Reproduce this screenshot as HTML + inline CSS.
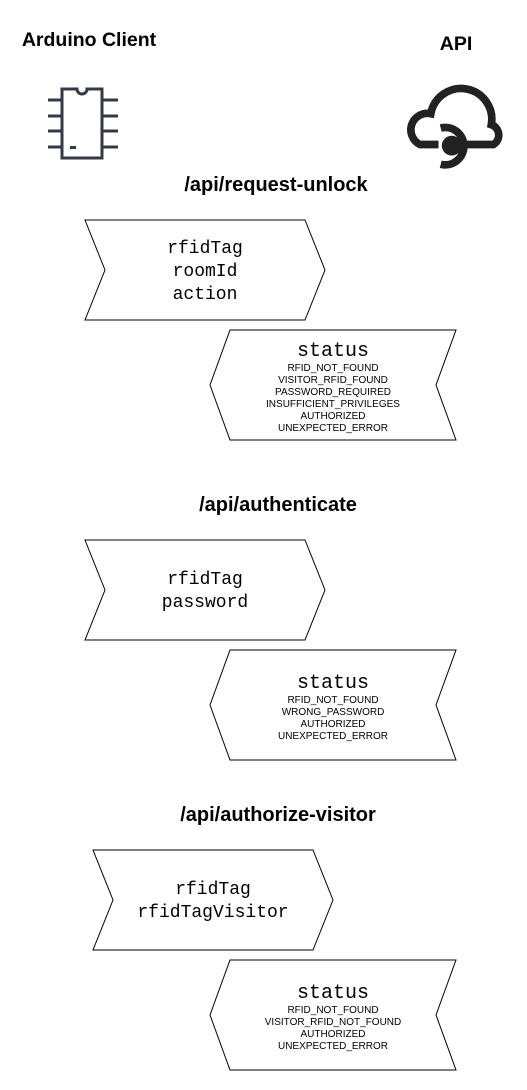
<!DOCTYPE html>
<html><head><style>
body{margin:0;background:#fff;}
svg{display:block;}
.m{font-family:"Liberation Mono",monospace;font-size:18px;}
.s{font-family:"Liberation Sans",sans-serif;font-size:10px;}
.b{font-family:"Liberation Sans",sans-serif;font-weight:bold;font-size:19.5px;}
.t{font-family:"Liberation Sans",sans-serif;font-weight:bold;font-size:20px;}
</style></head><body>
<svg width="527" height="1090" viewBox="0 0 527 1090" xmlns="http://www.w3.org/2000/svg">
<text x="89" y="46" class="b" text-anchor="middle">Arduino Client</text>
<text x="456" y="50" class="b" text-anchor="middle">API</text>
<!-- chip -->
<g stroke="#333a45" stroke-width="3" fill="none">
<path d="M62,89 H77 A5,5 0 0 0 87,89 H102 V158 H62 Z"/>
<path d="M48,100H62M48,116H62M48,131H62M48,147H62M102,100H118M102,116H118M102,131H118M102,147H118"/>
</g>
<rect x="70" y="146" width="6" height="3" fill="#333a45"/>
<!-- cloud -->
<g transform="translate(455,128) scale(1.1) translate(-455,-128)">
<g stroke="#222" stroke-width="7" fill="none" stroke-linecap="butt">
<path d="M440,143 H423 A15,15 0 0 1 433,115 A27,27 0 0 1 488,125 A10,10 0 0 1 490,143 H462"/>
<path d="M442,128 A17,17 0 1 1 442,161"/>
</g>
<circle cx="452" cy="144" r="9" fill="#222"/>
</g>

<g fill="#fff" stroke="#000" stroke-width="1">
<polygon points="85,220 305,220 325,270 305,320 85,320 105,270"/>
<polygon points="230,330 456,330 436,385 456,440 230,440 210,385"/>
<polygon points="85,540 305,540 325,590 305,640 85,640 105,590"/>
<polygon points="230,650 456,650 436,705 456,760 230,760 210,705"/>
<polygon points="93,850 313,850 333,900 313,950 93,950 113,900"/>
<polygon points="230,960 456,960 436,1015 456,1070 230,1070 210,1015"/>
</g>

<text x="276" y="191" class="t" text-anchor="middle">/api/request-unlock</text>
<g class="m" text-anchor="middle">
<text x="205" y="253">rfidTag</text>
<text x="205" y="276">roomId</text>
<text x="205" y="299">action</text>
</g>
<text x="333" y="356" class="m" text-anchor="middle" style="font-size:20px">status</text>
<g class="s" text-anchor="middle">
<text x="333" y="371">RFID_NOT_FOUND</text>
<text x="333" y="383">VISITOR_RFID_FOUND</text>
<text x="333" y="395">PASSWORD_REQUIRED</text>
<text x="333" y="407">INSUFFICIENT_PRIVILEGES</text>
<text x="333" y="419">AUTHORIZED</text>
<text x="333" y="431">UNEXPECTED_ERROR</text>
</g>

<text x="278" y="511" class="t" text-anchor="middle">/api/authenticate</text>
<g class="m" text-anchor="middle">
<text x="205" y="584">rfidTag</text>
<text x="205" y="607">password</text>
</g>
<text x="333" y="688" class="m" text-anchor="middle" style="font-size:20px">status</text>
<g class="s" text-anchor="middle">
<text x="333" y="703">RFID_NOT_FOUND</text>
<text x="333" y="715">WRONG_PASSWORD</text>
<text x="333" y="727">AUTHORIZED</text>
<text x="333" y="739">UNEXPECTED_ERROR</text>
</g>

<text x="278" y="821" class="t" text-anchor="middle">/api/authorize-visitor</text>
<g class="m" text-anchor="middle">
<text x="213" y="894">rfidTag</text>
<text x="213" y="917">rfidTagVisitor</text>
</g>
<text x="333" y="998" class="m" text-anchor="middle" style="font-size:20px">status</text>
<g class="s" text-anchor="middle">
<text x="333" y="1013">RFID_NOT_FOUND</text>
<text x="333" y="1025">VISITOR_RFID_NOT_FOUND</text>
<text x="333" y="1037">AUTHORIZED</text>
<text x="333" y="1049">UNEXPECTED_ERROR</text>
</g>
</svg>
</body></html>
